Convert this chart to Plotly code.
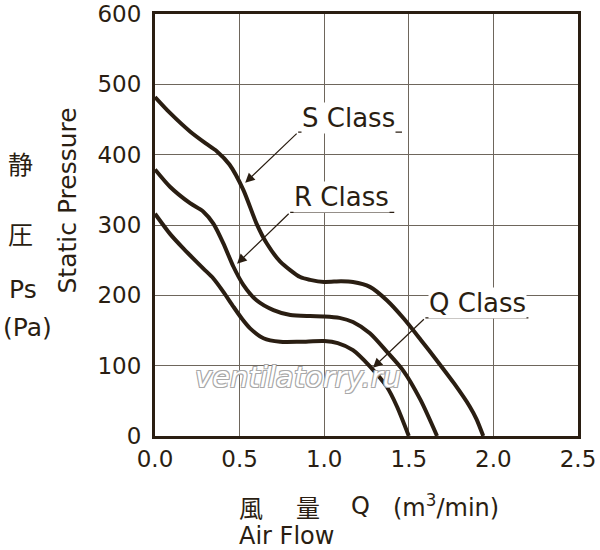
import plotly.graph_objects as go

# air flow (m3/min) and static pressure (Pa)
s_flow = [0.0, 0.09, 0.207, 0.3, 0.365, 0.44, 0.522, 0.6, 0.66, 0.74, 0.858, 0.917, 1.0, 1.1, 1.17, 1.27, 1.37, 1.47, 1.57, 1.67, 1.77, 1.86, 1.9, 1.94]
s_press = [482, 459, 433, 416, 405, 386, 350, 302, 274, 248, 226, 222, 219, 220, 219, 212, 193, 167, 137, 106, 74, 42, 24, 0]

r_flow = [0.0, 0.09, 0.207, 0.286, 0.345, 0.404, 0.463, 0.522, 0.6, 0.7, 0.8, 0.917, 1.0, 1.09, 1.17, 1.27, 1.37, 1.47, 1.57, 1.667]
r_press = [379, 354, 331, 319, 302, 274, 241, 215, 193, 179, 172, 170.5, 170, 168, 162, 146, 120, 92, 51, 0]

q_flow = [0.0, 0.09, 0.17, 0.207, 0.286, 0.345, 0.404, 0.463, 0.513, 0.562, 0.641, 0.74, 0.86, 1.0, 1.08, 1.17, 1.27, 1.37, 1.43, 1.5]
q_press = [316, 287, 266, 257, 238, 224, 205, 184, 167, 153, 139, 134, 134, 135, 132, 122, 99, 70, 42, 0]

x_ticks = [0.0, 0.5, 1.0, 1.5, 2.0, 2.5]
y_ticks = [0, 100, 200, 300, 400, 500, 600]

ink = "#2a1e12"
font = "DejaVu Sans"
cjk = "Noto Sans CJK JP"

fig = go.Figure()
for fx, fy, nm in [(s_flow, s_press, "S Class"), (r_flow, r_press, "R Class"), (q_flow, q_press, "Q Class")]:
    fig.add_trace(go.Scatter(x=fx, y=fy, mode="lines", name=nm,
                             line=dict(color=ink, width=4, shape="spline", smoothing=0.7)))

# class labels: text, underline and arrow
labels = [
    ("S Class", 1.142, 452, 0.846, 1.46, 432, 0.533, 360),
    ("R Class", 1.104, 340, 0.799, 1.414, 318, 0.485, 245),
    ("Q Class", 1.905, 189, 1.598, 2.207, 168, 1.288, 97),
]
for txt, tx, ty, u0, u1, uy, ax_, ay_ in labels:
    fig.add_shape(type="line", x0=u0, x1=u1, y0=uy, y1=uy, line=dict(color=ink, width=1.3))
    fig.add_annotation(x=tx, y=ty, text=txt, showarrow=False, bgcolor="white",
                       xanchor="center", yanchor="middle",
                       font=dict(family=font, size=26, color=ink), borderpad=0)
    fig.add_annotation(x=ax_, y=ay_, ax=u0, ay=uy, axref="x", ayref="y", text="",
                       showarrow=True, arrowhead=2, arrowsize=1.6, arrowwidth=1.2,
                       arrowcolor=ink, standoff=0)

# watermark
fig.add_annotation(x=0.846, y=84, text="ventilatorry.ru", showarrow=False,
                   xanchor="center", yanchor="middle",
                   font=dict(family=font, size=29, color="white", style="italic",
                             shadow="-1px -1px 0 #a8a8a8, 1px -1px 0 #a8a8a8, -1px 1px 0 #a8a8a8, 1px 1px 0 #a8a8a8"))

# outer axis titles
side = [
    ("静", -0.317, 0.647, cjk, 25, 0),
    ("圧", -0.317, 0.481, cjk, 25, 0),
    ("Ps", -0.312, 0.346, font, 25, 0),
    ("(Pa)", -0.301, 0.256, font, 25, 0),
    ("Static Pressure", -0.207, 0.559, font, 25, -90),
    ("風", 0.227, -0.166, cjk, 24, 0),
    ("量", 0.362, -0.166, cjk, 24, 0),
    ("Q", 0.485, -0.166, font, 24, 0),
    ("(m<sup>3</sup>/min)", 0.688, -0.166, font, 24, 0),
    ("Air Flow", 0.311, -0.237, font, 24, 0),
]
for txt, px, py, fam, sz, ang in side:
    fig.add_annotation(x=px, y=py, xref="paper", yref="paper", text=txt, showarrow=False,
                       xanchor="center", yanchor="middle", textangle=ang,
                       font=dict(family=fam, size=sz, color=ink))

axis_common = dict(showline=True, mirror=True, linecolor=ink, linewidth=3, automargin=False,
                   gridcolor="#6e665c", gridwidth=1, zeroline=False, ticks="",
                   tickfont=dict(family=font, size=23, color=ink))
fig.update_layout(
    width=600, height=550,
    margin=dict(l=155, r=22, t=14, b=114),
    paper_bgcolor="white", plot_bgcolor="white",
    showlegend=False,
    xaxis=dict(range=[0, 2.5], tickvals=x_ticks, ticktext=[f"{v:.1f}" for v in x_ticks], **axis_common),
    yaxis=dict(range=[0, 600], tickvals=y_ticks, ticklabelstandoff=6, **axis_common),
)

fig.write_html("out.html", config={"displayModeBar": False},
               post_script="document.body.style.margin = '0';")
